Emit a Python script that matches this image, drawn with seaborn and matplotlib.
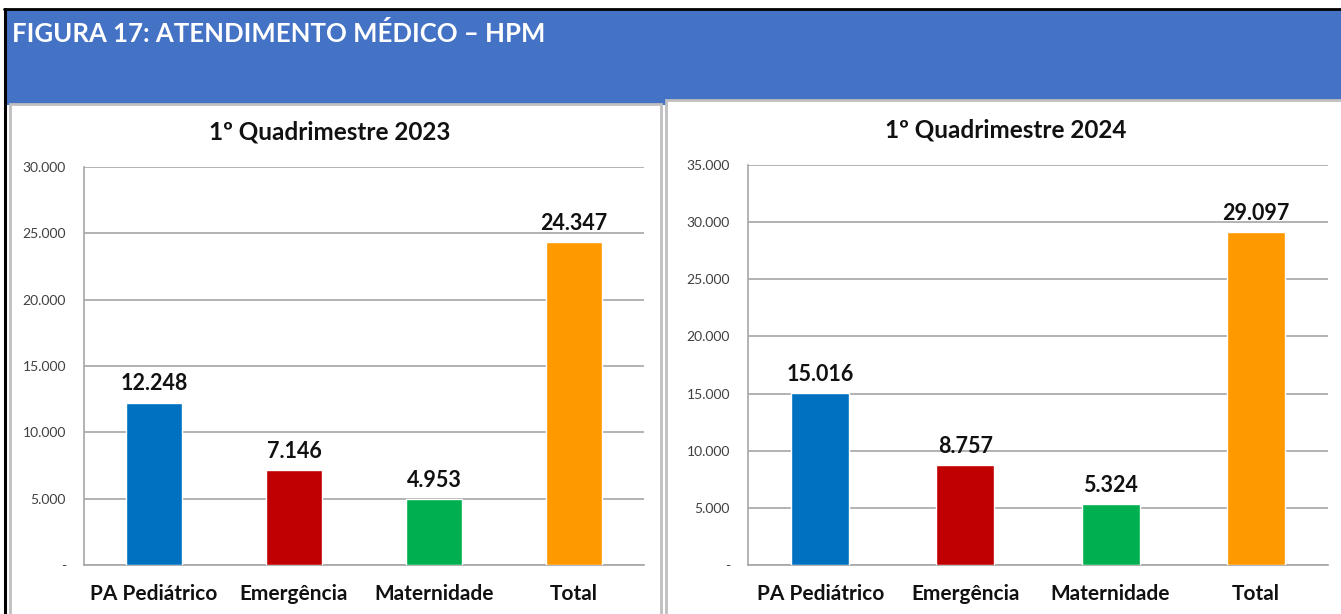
import matplotlib
matplotlib.use("Agg")
import matplotlib.pyplot as plt
import seaborn as sns
import pandas as pd
from matplotlib.patches import Rectangle
from matplotlib.lines import Line2D
from matplotlib.ticker import FuncFormatter

categories = ["PA Pediátrico", "Emergência", "Maternidade", "Total"]
values_2023 = [12248, 7146, 4953, 24347]
values_2024 = [15016, 8757, 5324, 29097]
ticks_2023 = [0, 5000, 10000, 15000, 20000, 25000, 30000]
ticks_2024 = [0, 5000, 10000, 15000, 20000, 25000, 30000, 35000]
colors = ["#0070C0", "#C00000", "#00B050", "#FF9900"]
main_title = "FIGURA 17: ATENDIMENTO MÉDICO – HPM"
panel_titles = ["1º Quadrimestre 2023", "1º Quadrimestre 2024"]

sns.set_theme(style="white")
plt.rcParams["font.family"] = ["Lato", "DejaVu Sans"]

W, H = 1341, 614
fig = plt.figure(figsize=(W / 100, H / 100), dpi=100)
fig.patch.set_facecolor("white")


def fx(x):
    return x / W


def fy(y):
    return 1 - y / H


def rect(x0, y0, x1, y1, **kw):
    r = Rectangle((fx(x0), fy(y1)), fx(x1) - fx(x0), fy(y0) - fy(y1),
                  transform=fig.transFigure, **kw)
    fig.add_artist(r)
    return r


# banner
rect(5, 10, 1345, 105, facecolor="#4472C4", edgecolor="none", zorder=-5)
# panels
rect(10, 104, 661, 620, facecolor="white", edgecolor="#BFBFBF", lw=2, zorder=-4)
rect(666, 100, 1350, 620, facecolor="white", edgecolor="#BFBFBF", lw=2, zorder=-4)
# black frame lines
fig.add_artist(Line2D([fx(4), fx(1345)], [fy(9), fy(9)], color="black", lw=2,
                      transform=fig.transFigure, zorder=-3))
fig.add_artist(Line2D([fx(5), fx(5)], [fy(9), fy(620)], color="black", lw=2.2,
                      transform=fig.transFigure, zorder=-3))

fig.text(fx(12), fy(34), main_title, color="white", fontsize=18.5, fontweight="bold",
         ha="left", va="center")

grid_col = "#A6A6A6"


def fmt(v, pos=None):
    if v == 0:
        return "-"
    return f"{v:,.0f}".replace(",", ".")


def panel(box, values, ticks, title, title_xy):
    x0, y0, x1, y1 = box
    ax = fig.add_axes([fx(x0), fy(y1), fx(x1) - fx(x0), fy(y0) - fy(y1)])
    ax.set_facecolor("none")
    df = pd.DataFrame({"cat": categories, "val": values})
    sns.barplot(data=df, x="cat", y="val", hue="cat", palette=colors,
                width=0.4, legend=False, ax=ax, saturation=1, zorder=3)
    ax.set_xlim(-0.5, 3.5)
    ax.set_ylim(0, ticks[-1])
    ax.set_yticks(ticks)
    ax.yaxis.set_major_formatter(FuncFormatter(fmt))
    ax.grid(axis="y", color=grid_col, lw=1.2, zorder=0)
    ax.grid(axis="x", visible=False)
    for s in ["top", "right"]:
        ax.spines[s].set_visible(False)
    for s in ["left", "bottom"]:
        ax.spines[s].set_color(grid_col)
        ax.spines[s].set_linewidth(1.2)
    ax.set_xlabel("")
    ax.set_ylabel("")
    ax.tick_params(axis="y", length=0, pad=13, labelsize=10, labelcolor="#404040")
    ax.tick_params(axis="x", length=0, pad=14, labelsize=15)
    for lab in ax.get_xticklabels():
        lab.set_fontweight("bold")
        lab.set_color("#111111")
    for i, v in enumerate(values):
        ax.annotate(fmt(v), (i, v), xytext=(0, 6), textcoords="offset points",
                    ha="center", va="bottom", fontsize=15.5, fontweight="bold",
                    color="#111111")
    fig.text(fx(title_xy[0]), fy(title_xy[1]), title, fontsize=17.5,
             fontweight="bold", ha="center", va="center", color="#111111")
    return ax


panel((84, 167, 644, 565), values_2023, ticks_2023, panel_titles[0], (330, 132))
panel((748, 165, 1328, 565), values_2024, ticks_2024, panel_titles[1], (1006, 130))

fig.savefig("out.png", dpi=100, facecolor="white")
